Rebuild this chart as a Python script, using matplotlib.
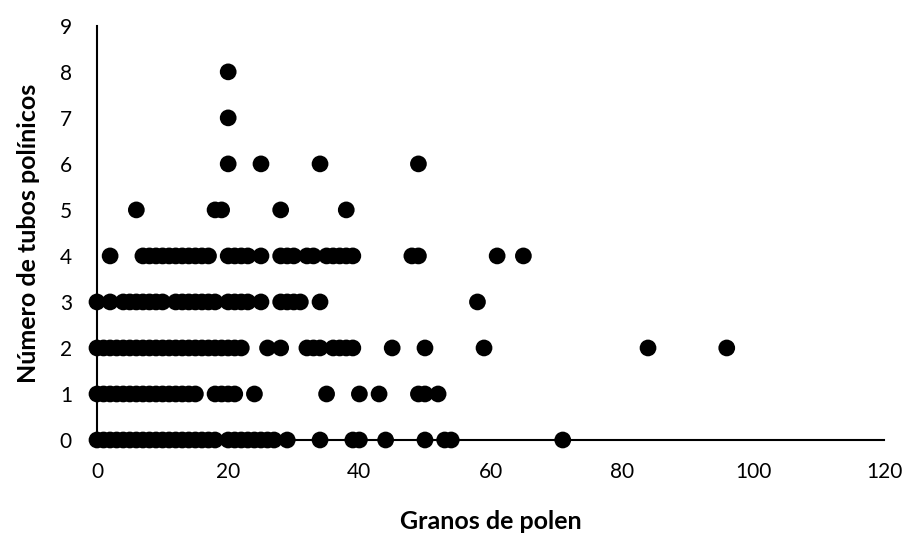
import matplotlib
matplotlib.use("Agg")
import matplotlib.pyplot as plt

# Granos de polen (x) por número de tubos polínicos (y)
x_row0 = list(range(0, 19)) + list(range(20, 28)) + [29, 34, 39, 40, 44, 50, 53, 54, 71]
x_row1 = list(range(0, 16)) + [18, 19, 20, 21, 24, 35, 40, 43, 49, 50, 52]
x_row2 = list(range(0, 23)) + [26, 28, 32, 33, 34, 36, 37, 38, 39, 45, 50, 59, 84, 96]
x_row3 = [0, 2, 4, 5, 6, 7, 8, 9, 10, 12, 13, 14, 15, 16, 17, 18, 20, 21, 22, 23,
          25, 28, 29, 30, 31, 34, 58]
x_row4 = [2, 7, 8, 9, 10, 11, 12, 13, 14, 15, 16, 17, 20, 21, 22, 23, 25,
          28, 29, 30, 32, 33, 35, 36, 37, 38, 39, 48, 49, 61, 65]
x_row5 = [6, 18, 19, 28, 38]
x_row6 = [20, 25, 34, 49]
x_row7 = [20]
x_row8 = [20]

rows = [x_row0, x_row1, x_row2, x_row3, x_row4, x_row5, x_row6, x_row7, x_row8]
granos = [v for r in rows for v in r]
tubos = [i for i, r in enumerate(rows) for _ in r]

x_ticks = [0, 20, 40, 60, 80, 100, 120]
y_ticks = list(range(0, 10))

plt.rcParams['font.family'] = ['Lato', 'DejaVu Sans']

fig = plt.figure(figsize=(9.09, 5.33), dpi=100)
ax = fig.add_axes([0.1067, 0.1745, 0.866, 0.777])
ax.scatter(granos, tubos, s=145, color='black', edgecolors='none', clip_on=False, zorder=3)
ax.set_xlim(0, 120)
ax.set_ylim(0, 9)
ax.set_xticks(x_ticks)
ax.set_yticks(y_ticks)
ax.tick_params(axis='x', length=0, labelsize=15, pad=16)
ax.tick_params(axis='y', length=0, labelsize=15, pad=18)
for s in ['top', 'right']:
    ax.spines[s].set_visible(False)
for s in ['left', 'bottom']:
    ax.spines[s].set_linewidth(1.5)
    ax.spines[s].set_color('black')
ax.set_xlabel('Granos de polen', fontsize=18, fontweight='bold', labelpad=20)
ax.set_ylabel('Número de tubos polínicos', fontsize=18, fontweight='bold', labelpad=14)
fig.savefig('out.png', dpi=100)
